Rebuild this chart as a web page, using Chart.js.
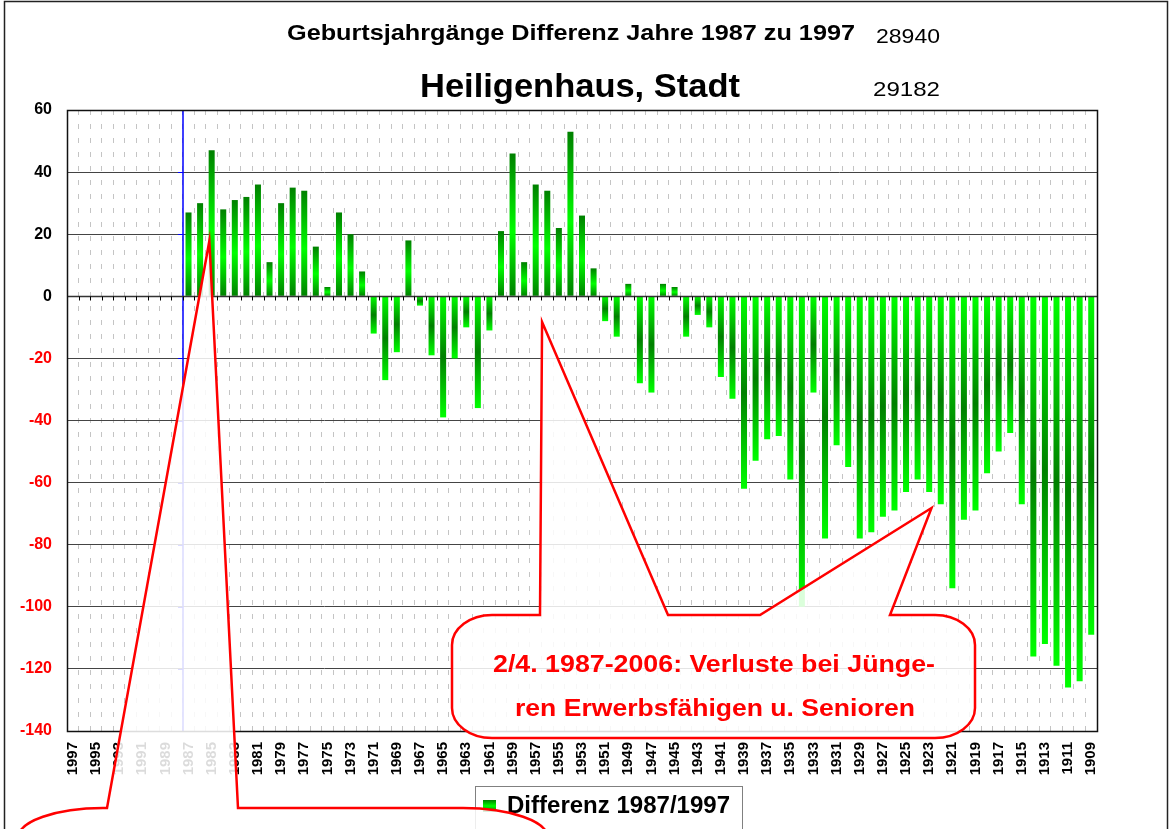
<!DOCTYPE html>
<html>
<head>
<meta charset="utf-8">
<script src="https://cdn.jsdelivr.net/npm/chart.js@4.4.0/dist/chart.umd.min.js"></script>
<style>
  html, body { margin: 0; padding: 0; background: #fff; }
  #chart { display: block; }
</style>
</head>
<body>
<canvas id="chart" width="1171" height="829"></canvas>
<script>
// Geburtsjahrgänge (Kategorien), von 1997 abwärts
const years = [
  '1997','1996','1995','1994','1993','1992','1991','1990','1989','1988',
  '1987','1986','1985','1984','1983','1982','1981','1980','1979','1978',
  '1977','1976','1975','1974','1973','1972','1971','1970','1969','1968',
  '1967','1966','1965','1964','1963','1962','1961','1960','1959','1958',
  '1957','1956','1955','1954','1953','1952','1951','1950','1949','1948',
  '1947','1946','1945','1944','1943','1942','1941','1940','1939','1938',
  '1937','1936','1935','1934','1933','1932','1931','1930','1929','1928',
  '1927','1926','1925','1924','1923','1922','1921','1920','1919','1918',
  '1917','1916','1915','1914','1913','1912','1911','1910','1909'
];

// Differenz 1987/1997 je Jahrgang
const diff = [
  null, null, null, null, null, null, null, null, null, null,
  27, 30, 47, 28, 31, 32, 36, 11, 30, 35,
  34, 16, 3, 27, 20, 8, -12, -27, -18, 18,
  -3, -19, -39, -20, -10, -36, -11, 21, 46, 11,
  36, 34, 22, 53, 26, 9, -8, -13, 4, -28,
  -31, 4, 3, -13, -6, -10, -26, -33, -62, -53,
  -46, -45, -59, -100, -31, -78, -48, -55, -78, -76,
  -71, -69, -63, -59, -63, -67, -94, -72, -69, -57,
  -50, -44, -67, -116, -112, -119, -126, -124, -109
];

const yTicks = [60, 40, 20, 0, -20, -40, -60, -80, -100, -120, -140];
const seriesName = 'Differenz 1987/1997';
const title1 = 'Geburtsjahrgänge Differenz Jahre 1987 zu 1997';
const title2 = 'Heiligenhaus, Stadt';
const num1 = '28940';
const num2 = '29182';
const note2 = ['2/4. 1987-2006: Verluste bei Jünge-', 'ren Erwerbsfähigen u. Senioren'];

const FONT = '"Liberation Sans", Arial, Helvetica, sans-serif';
const DARK = '#008000';
const BRIGHT = '#00ff00';

function barFill(c) {
  const chart = c.chart;
  const v = c.raw;
  if (v == null || !chart.chartArea) return BRIGHT;
  const ys = chart.scales.y;
  const p0 = ys.getPixelForValue(0);
  const p1 = ys.getPixelForValue(v);
  if (p0 === p1) return DARK;
  const g = chart.ctx.createLinearGradient(0, p1, 0, p0);
  if (v >= 0) {
    g.addColorStop(0, DARK); g.addColorStop(0.55, BRIGHT); g.addColorStop(1, DARK);
  } else {
    g.addColorStop(0, BRIGHT); g.addColorStop(0.5, DARK); g.addColorStop(1, BRIGHT);
  }
  return g;
}

// text drawn at a left edge and stretched to a width
function fitText(ctx, text, x, y, font, width, color) {
  ctx.save();
  ctx.font = font;
  ctx.fillStyle = color;
  ctx.textAlign = 'left';
  ctx.textBaseline = 'alphabetic';
  const w = ctx.measureText(text).width;
  ctx.translate(x, y);
  ctx.scale(width / w, 1);
  ctx.fillText(text, 0, 0);
  ctx.restore();
}

function calloutPath(ctx, b, rx, ry, pointers) {
  ctx.beginPath();
  ctx.moveTo(b.l + rx, b.t);
  pointers.forEach(p => {
    ctx.lineTo(p.x1, b.t);
    ctx.lineTo(p.tx, p.ty);
    ctx.lineTo(p.x2, b.t);
  });
  ctx.lineTo(b.r - rx, b.t);
  ctx.ellipse(b.r - rx, b.t + ry, rx, ry, 0, -Math.PI / 2, 0);
  ctx.lineTo(b.r, b.b - ry);
  ctx.ellipse(b.r - rx, b.b - ry, rx, ry, 0, 0, Math.PI / 2);
  ctx.lineTo(b.l + rx, b.b);
  ctx.ellipse(b.l + rx, b.b - ry, rx, ry, 0, Math.PI / 2, Math.PI);
  ctx.lineTo(b.l, b.t + ry);
  ctx.ellipse(b.l + rx, b.t + ry, rx, ry, 0, Math.PI, Math.PI * 1.5);
  ctx.closePath();
}

// callouts: box in page pixels, pointer tips in data units (category index, value)
const callouts = [
  { box: { l: 18, t: 808, r: 548, b: 900 }, rx: 85, ry: 30,
    pointers: [{ x1: 107, x2: 238, tip: [11.8, 17.8] }], text: [] },
  { box: { l: 452, t: 615, r: 975, b: 738 }, rx: 40, ry: 30,
    pointers: [{ x1: 540, x2: 668, tip: [40.55, -8.3] },
               { x1: 760, x2: 890, tip: [74.2, -68.2] }], text: note2 }
];

const excelLook = {
  id: 'excelLook',
  afterDatasetsDraw(chart) {
    const { ctx, chartArea: a, scales: { x, y } } = chart;
    ctx.save();
    // blue secondary axis line between 1988 and 1987
    const bx = Math.round(x.getPixelForValue(9.5));
    ctx.strokeStyle = '#0000ff';
    ctx.lineWidth = 1.5;
    ctx.beginPath();
    ctx.moveTo(bx, a.top); ctx.lineTo(bx, a.bottom);
    ctx.stroke();
    ctx.lineWidth = 1;
    ctx.beginPath();
    yTicks.forEach(t => {
      const py = Math.round(y.getPixelForValue(t)) + 0.5;
      ctx.moveTo(bx - 5, py); ctx.lineTo(bx, py);
    });
    ctx.stroke();
    // zero line with tick marks
    const y0 = Math.round(y.getPixelForValue(0)) + 0.5;
    ctx.strokeStyle = '#333';
    ctx.lineWidth = 1.5;
    ctx.beginPath();
    ctx.moveTo(a.left, y0); ctx.lineTo(a.right, y0);
    ctx.stroke();
    ctx.lineWidth = 1;
    ctx.strokeStyle = '#000';
    ctx.beginPath();
    for (let i = 0; i <= years.length; i++) {
      const px = Math.round(x.getPixelForValue(i - 0.5)) + 0.5;
      ctx.moveTo(px, y0); ctx.lineTo(px, y0 + 4);
    }
    ctx.stroke();
    // plot frame
    ctx.lineWidth = 1.5;
    ctx.strokeStyle = '#111';
    ctx.strokeRect(Math.round(a.left) + 0.5, Math.round(a.top) + 0.5,
      Math.round(a.right - a.left), Math.round(a.bottom - a.top));
    ctx.restore();
  },
  afterDraw(chart) {
    const { ctx, scales: { x, y } } = chart;
    ctx.save();
    // outer frame
    ctx.strokeStyle = '#222';
    ctx.lineWidth = 1.5;
    ctx.strokeRect(4.5, 1.5, 1163, 860);

    // titles
    fitText(ctx, title1, 287, 40, 'bold 22px ' + FONT, 568, '#000');
    fitText(ctx, num1, 876, 43, '21px ' + FONT, 64, '#000');
    fitText(ctx, title2, 420, 97, 'bold 34px ' + FONT, 320, '#000');
    fitText(ctx, num2, 873, 96, '21px ' + FONT, 67, '#000');

    // legend
    ctx.strokeStyle = '#808080';
    ctx.lineWidth = 1;
    ctx.strokeRect(475.5, 786.5, 267, 70);
    const lg = ctx.createLinearGradient(0, 800, 0, 812);
    lg.addColorStop(0, DARK); lg.addColorStop(0.5, BRIGHT); lg.addColorStop(1, DARK);
    ctx.fillStyle = lg;
    ctx.fillRect(483, 800, 13, 12);
    fitText(ctx, chart.data.datasets[0].label, 507, 813, 'bold 23px ' + FONT, 223, '#000');

    // callouts
    callouts.forEach(c => {
      const pts = c.pointers.map(p => ({
        x1: p.x1, x2: p.x2,
        tx: x.getPixelForValue(p.tip[0]), ty: y.getPixelForValue(p.tip[1])
      }));
      calloutPath(ctx, c.box, c.rx, c.ry, pts);
      ctx.fillStyle = 'rgba(255,255,255,0.86)';
      ctx.fill();
      ctx.strokeStyle = '#ff0000';
      ctx.lineWidth = 2.5;
      ctx.lineJoin = 'miter';
      ctx.stroke();
      if (c.text.length) {
        fitText(ctx, c.text[0], 493, 672, 'bold 24px ' + FONT, 442, '#ff0000');
        fitText(ctx, c.text[1], 515, 716, 'bold 24px ' + FONT, 400, '#ff0000');
      }
    });
    ctx.restore();
  }
};

const ctx = document.getElementById('chart').getContext('2d');
const diffChart = new Chart(ctx, {
  type: 'bar',
  data: {
    labels: years,
    datasets: [{
      label: seriesName,
      data: diff,
      backgroundColor: barFill,
      borderWidth: 0,
      barPercentage: 0.52,
      categoryPercentage: 1.0
    }]
  },
  options: {
    responsive: false,
    animation: false,
    devicePixelRatio: 1,
    layout: { padding: { top: 110, right: 74, left: 0, bottom: 0 } },
    plugins: {
      legend: { display: false },
      title: { display: false },
      tooltip: { enabled: false }
    },
    scales: {
      x: {
        offset: true,
        grid: { offset: true, color: '#c4c4c4', lineWidth: 1, drawTicks: false },
        border: { display: false, dash: [5, 9] },
        ticks: {
          autoSkip: false,
          minRotation: 90,
          maxRotation: 90,
          padding: 11,
          color: '#000',
          font: { family: FONT, size: 15, weight: 'bold' },
          callback: (v, i) => (i % 2 === 0 ? years[i] : '')
        },
        afterFit: s => { s.height = 98; }
      },
      y: {
        min: -140,
        max: 60,
        ticks: {
          stepSize: 20,
          padding: 15,
          color: c => (c.tick && c.tick.value < 0 ? '#ff0000' : '#000000'),
          font: { family: FONT, size: 16, weight: 'bold' }
        },
        grid: { color: '#444', lineWidth: 1, drawTicks: false },
        border: { display: false },
        afterFit: s => { s.width = 67; }
      }
    }
  },
  plugins: [excelLook]
});
</script>
</body>
</html>
